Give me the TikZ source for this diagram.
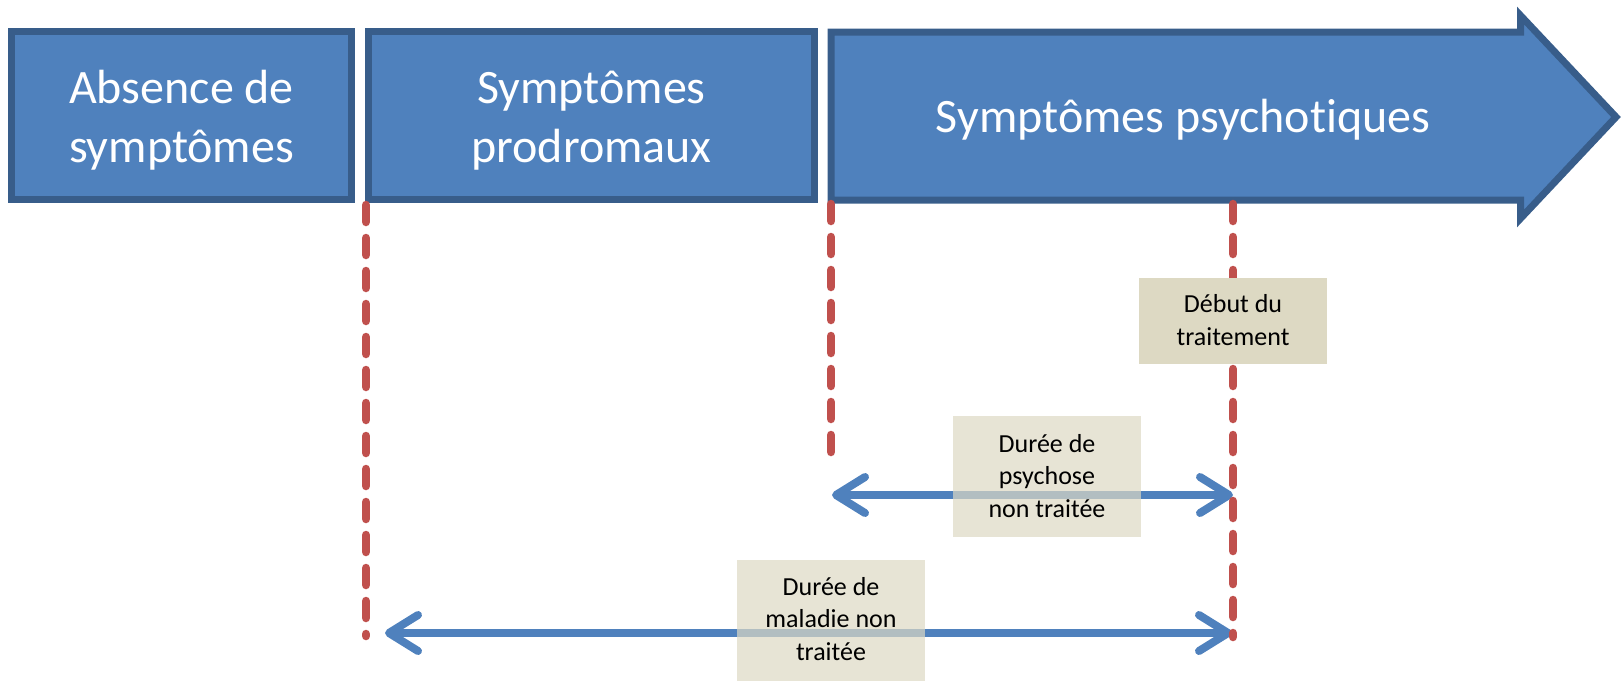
\documentclass[tikz,border=0pt]{standalone}
\usepackage{fontspec}
\setmainfont{Carlito}[Ligatures={NoCommon}]
\usetikzlibrary{arrows.meta}

\definecolor{phasefill}{HTML}{4F81BD}
\definecolor{phaseedge}{HTML}{385D8A}
\definecolor{markerred}{HTML}{C0504D}
\definecolor{notefill}{HTML}{DDD9C3}

\begin{document}
\begin{tikzpicture}[x=1pt,y=-1pt,
  phase/.style={draw=phaseedge, fill=phasefill, line width=7pt, inner sep=0pt},
  phasetext/.style={text=white, font=\fontsize{48}{59}\selectfont, align=center, inner sep=0pt},
  note/.style={fill=notefill, inner sep=0pt, minimum width=188pt},
  notetext/.style={text=black, font=\fontsize{26}{32.5}\selectfont, align=center, inner sep=0pt},
  marker/.style={draw=markerred, line width=8.5pt, line cap=round, dash pattern=on 17pt off 16pt},
  barb/.tip={Straight Barb[length=29pt,width=36pt,round]},
  span/.style={draw=phasefill, line width=8pt, barb-barb,
    preaction={draw=black, draw opacity=0.18, transform canvas={xshift=1.5pt,yshift=-3pt}}}
]
\useasboundingbox (0,0) rectangle (1622,680);

% phases of the illness
\node[phase, minimum width=340pt, minimum height=168pt] (absence) at (181.5,115.5) {};
\node[phase, minimum width=446pt, minimum height=168pt] (prodrome) at (591.5,115.5) {};
\draw[phase, line join=miter] (831,32) coordinate (psytl) -- (1520.5,32) -- (1520.5,15.5)
  -- (1616,117) coordinate (psytip) -- (1520.5,218.5) -- (1520.5,200) -- (831,200) coordinate (psybl) -- cycle;

% multi-line texts are anchored on the baseline of their last line
\node[phasetext, anchor=base] (absencetxt) at (181.5,162) {Absence de\\symptômes};
\node[phasetext, anchor=base] (prodrometxt) at (591.5,162) {Symptômes\\prodromaux};
\node[phasetext, anchor=base] (psychtxt) at (1183,132) {Symptômes psychotiques};

% time marks
\coordinate (m1top) at (366,205);
\coordinate (m1bot) at (366,636);
\coordinate (m2top) at (831,204);
\coordinate (m2bot) at (831,467);
\coordinate (m3top) at (1233,204);
\coordinate (m3bot) at (1233,637);

% durations
\coordinate (d1a) at (832,495);
\coordinate (d1b) at (1233,495);
\coordinate (d2a) at (385,633);
\coordinate (d2b) at (1232,633);
\draw[span] (d1a) -- (d1b);
\draw[span] (d2a) -- (d2b);

\draw[marker] (m1top) -- (m1bot);
\draw[marker] (m2top) -- (m2bot);
\draw[marker] (m3top) -- (m3bot);

% labels
\node[note, minimum height=86pt] (debut) at (1233,321) {};
\node[notetext, anchor=base] (debuttxt) at (1233,345) {Début du\\traitement};

\node[note, minimum height=121pt, fill opacity=0.7] (dpnt) at (1047,476.5) {};
\node[notetext, anchor=base] (dpnttxt) at (1047,517) {Durée de\\psychose\\non traitée};

\node[note, minimum height=121pt, fill opacity=0.7] (dmnt) at (831,620.5) {};
\node[notetext, anchor=base] (dmnttxt) at (831,660) {Durée de\\maladie non\\traitée};
\end{tikzpicture}
\end{document}
